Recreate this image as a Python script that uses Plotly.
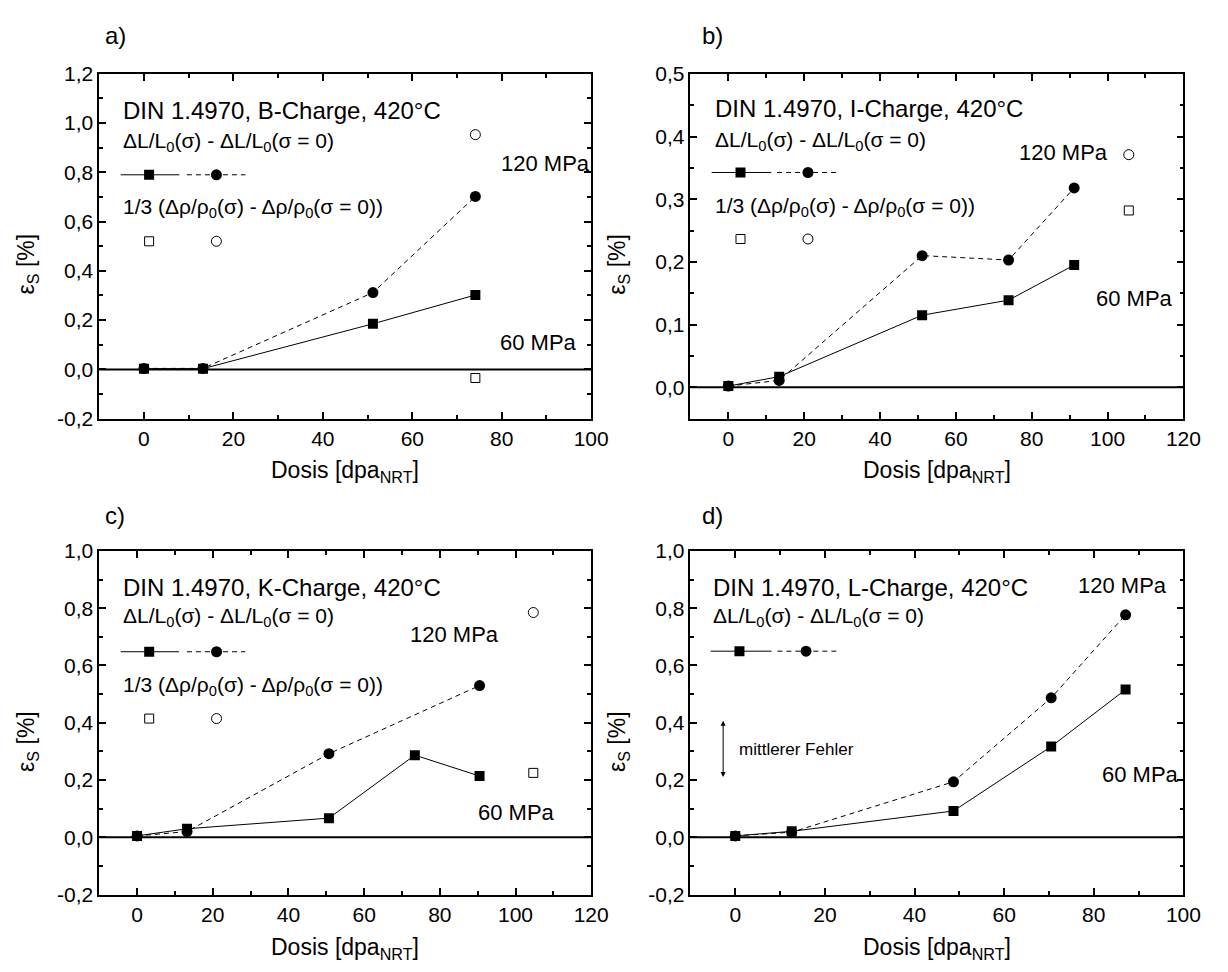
import plotly.graph_objects as go
from plotly.subplots import make_subplots

# ---------------- data ----------------
# a) B-Charge
a_dose = [0, 13.2, 51.2, 74.1]
a_eps_60 = [0.003, 0.003, 0.185, 0.302]
a_eps_120 = [0.004, 0.004, 0.312, 0.702]
a_rho_dose = [74.1]
a_rho_60 = [-0.035]
a_rho_120 = [0.953]

# b) I-Charge
b_dose = [0, 13.4, 51.1, 73.9, 91.2]
b_eps_60 = [0.002, 0.017, 0.115, 0.139, 0.195]
b_eps_120 = [0.002, 0.011, 0.210, 0.203, 0.318]
b_rho_dose = [105.6]
b_rho_60 = [0.282]
b_rho_120 = [0.371]

# c) K-Charge
c_dose_60 = [0, 13.2, 50.7, 73.4, 90.5]
c_eps_60 = [0.005, 0.030, 0.067, 0.287, 0.214]
c_dose_120 = [0, 13.2, 50.7, 90.5]
c_eps_120 = [0.005, 0.020, 0.292, 0.530]
c_rho_dose = [104.7]
c_rho_60 = [0.225]
c_rho_120 = [0.785]

# d) L-Charge
d_dose = [0, 12.6, 48.7, 70.5, 87.1]
d_eps_60 = [0.005, 0.021, 0.092, 0.317, 0.516]
d_eps_120 = [0.005, 0.018, 0.194, 0.487, 0.777]

# tick labels
x_ticks_100 = [0, 20, 40, 60, 80, 100]
x_ticks_120 = [0, 20, 40, 60, 80, 100, 120]
y_ticks_a = [-0.2, 0.0, 0.2, 0.4, 0.6, 0.8, 1.0, 1.2]
y_labels_a = ["-0,2", "0,0", "0,2", "0,4", "0,6", "0,8", "1,0", "1,2"]
y_ticks_b = [0.0, 0.1, 0.2, 0.3, 0.4, 0.5]
y_labels_b = ["0,0", "0,1", "0,2", "0,3", "0,4", "0,5"]
y_ticks_cd = [-0.2, 0.0, 0.2, 0.4, 0.6, 0.8, 1.0]
y_labels_cd = ["-0,2", "0,0", "0,2", "0,4", "0,6", "0,8", "1,0"]

# in-plot key glyphs: [solid line x], [dashed line x], key row y values
a_key_solid = [-5.2, 1.15, 7.9]
a_key_dash = [9.6, 16.2, 22.7]
a_key_y = [0.79, 0.52]
b_key_solid = [-4.4, 3.2, 11.3]
b_key_dash = [12.85, 21.0, 28.6]
b_key_y = [0.3426, 0.2365]
c_key_solid = [-4.3, 3.2, 11.1]
c_key_dash = [13.2, 21.0, 28.6]
c_key_y = [0.648, 0.4147]
d_key_solid = [-5.5, 0.94, 8.1]
d_key_dash = [9.4, 15.8, 22.6]
d_key_y = [0.65]

FONT = "Liberation Sans, Arial, sans-serif"
W, H = 1228, 972

fig = make_subplots(rows=2, cols=2)

def add_series(row, col, x60, y60, x120, y120):
    fig.add_trace(go.Scatter(x=x60, y=y60, mode="lines+markers",
                             line=dict(color="black", width=1),
                             marker=dict(symbol="square", size=10, color="black"),
                             showlegend=False), row=row, col=col)
    fig.add_trace(go.Scatter(x=x120, y=y120, mode="lines+markers",
                             line=dict(color="black", width=1, dash="5px,4px"),
                             marker=dict(symbol="circle", size=11, color="black"),
                             showlegend=False), row=row, col=col)

def add_rho(row, col, xr, y60, y120):
    fig.add_trace(go.Scatter(x=xr, y=y60, mode="markers",
                             marker=dict(symbol="square-open", size=9, color="black",
                                         line=dict(width=1)),
                             showlegend=False), row=row, col=col)
    fig.add_trace(go.Scatter(x=xr, y=y120, mode="markers",
                             marker=dict(symbol="circle-open", size=10, color="black",
                                         line=dict(width=1)),
                             showlegend=False), row=row, col=col)

def add_key(row, col, solid, dash, ys):
    y0 = ys[0]
    fig.add_trace(go.Scatter(x=solid, y=[y0] * 3, mode="lines",
                             line=dict(color="black", width=1), showlegend=False),
                  row=row, col=col)
    fig.add_trace(go.Scatter(x=dash, y=[y0] * 3, mode="lines",
                             line=dict(color="black", width=1, dash="5px,4px"),
                             showlegend=False), row=row, col=col)
    fig.add_trace(go.Scatter(x=[solid[1]], y=[y0], mode="markers",
                             marker=dict(symbol="square", size=10, color="black"),
                             showlegend=False), row=row, col=col)
    fig.add_trace(go.Scatter(x=[dash[1]], y=[y0], mode="markers",
                             marker=dict(symbol="circle", size=11, color="black"),
                             showlegend=False), row=row, col=col)
    if len(ys) > 1:
        add_rho(row, col, [solid[1]], [ys[1]], [])
        add_rho(row, col, [dash[1]], [], [ys[1]])

add_series(1, 1, a_dose, a_eps_60, a_dose, a_eps_120)
add_rho(1, 1, a_rho_dose, a_rho_60, a_rho_120)
add_key(1, 1, a_key_solid, a_key_dash, a_key_y)

add_series(1, 2, b_dose, b_eps_60, b_dose, b_eps_120)
add_rho(1, 2, b_rho_dose, b_rho_60, b_rho_120)
add_key(1, 2, b_key_solid, b_key_dash, b_key_y)

add_series(2, 1, c_dose_60, c_eps_60, c_dose_120, c_eps_120)
add_rho(2, 1, c_rho_dose, c_rho_60, c_rho_120)
add_key(2, 1, c_key_solid, c_key_dash, c_key_y)

add_series(2, 2, d_dose, d_eps_60, d_dose, d_eps_120)
add_key(2, 2, d_key_solid, d_key_dash, d_key_y)

# panel frames (pixel positions converted to paper fractions)
left_x = [100.7 / W, 600.0 / W]
right_x = [700.7 / W, 1201.0 / W]
top_y = [1 - 416.5 / H, 1 - 63.3 / H]
bot_y = [1 - 904.0 / H, 1 - 552.0 / H]

axis_common = dict(showline=True, linecolor="black", linewidth=1.5, mirror="ticks",
                   ticks="inside", ticklen=7, tickwidth=1.5, tickcolor="black",
                   showgrid=False, zeroline=False,
                   tickfont=dict(family=FONT, size=21, color="black"))

panels = [
    # (xaxis, yaxis, xdomain, ydomain, xrange, yrange, xticks, yticks, ylabels, yminor)
    ("xaxis", "yaxis", left_x, top_y, [-10, 100], [-0.2, 1.2], x_ticks_100, y_ticks_a, y_labels_a, 0.1),
    ("xaxis2", "yaxis2", right_x, top_y, [-10, 120], [-0.05, 0.5], x_ticks_120, y_ticks_b, y_labels_b, 0.05),
    ("xaxis3", "yaxis3", left_x, bot_y, [-10, 120], [-0.2, 1.0], x_ticks_120, y_ticks_cd, y_labels_cd, 0.1),
    ("xaxis4", "yaxis4", right_x, bot_y, [-10, 100], [-0.2, 1.0], x_ticks_100, y_ticks_cd, y_labels_cd, 0.1),
]
for xa, ya, xd, yd, xr, yr, xt, yt, yl, ym in panels:
    fig.layout[xa].update(domain=xd, range=xr, tickmode="array", tickvals=xt,
                          ticktext=[str(v) for v in xt],
                          minor=dict(ticks="inside", ticklen=4, tickwidth=1.5,
                                     tickcolor="black", dtick=10, tick0=0),
                          **axis_common)
    fig.layout[ya].update(domain=yd, range=yr, tickmode="array", tickvals=yt,
                          ticktext=yl,
                          minor=dict(ticks="inside", ticklen=4, tickwidth=1.5,
                                     tickcolor="black", dtick=ym, tick0=0),
                          **axis_common)

# zero reference lines
for xr_name, yr_name in [("x", "y"), ("x2", "y2"), ("x3", "y3"), ("x4", "y4")]:
    fig.add_shape(type="line", xref=f"{xr_name} domain", yref=yr_name,
                  x0=0, x1=1, y0=0, y1=0, line=dict(color="black", width=2))

ann = []

def txt(text, x, y, xref, yref, size, xanchor="left", yanchor="middle", angle=0):
    ann.append(dict(text=text, x=x, y=y, xref=xref, yref=yref, showarrow=False,
                    xanchor=xanchor, yanchor=yanchor, textangle=angle,
                    font=dict(family=FONT, size=size, color="black")))

DL = "\u0394L/L<sub>0</sub>(\u03c3) - \u0394L/L<sub>0</sub>(\u03c3 = 0)"
DR = "1/3 (\u0394\u03c1/\u03c1<sub>0</sub>(\u03c3) - \u0394\u03c1/\u03c1<sub>0</sub>(\u03c3 = 0))"
S_DIN, S_F, S_MPA = 24, 21, 22

# a)
txt("DIN 1.4970, B-Charge, 420\u00b0C", -5.2, 1.052, "x", "y", S_DIN)
txt(DL, -5.2, 0.925, "x", "y", S_F)
txt(DR, -5.2, 0.656, "x", "y", S_F)
txt("120 MPa", 79.3, 0.835, "x", "y", S_MPA)
txt("60 MPa", 79.1, 0.11, "x", "y", S_MPA)
# b)
txt("DIN 1.4970, I-Charge, 420\u00b0C", -4.1, 0.444, "x2", "y2", S_DIN)
txt(DL, -4.1, 0.393, "x2", "y2", S_F)
txt(DR, -4.1, 0.288, "x2", "y2", S_F)
txt("120 MPa", 76.1, 0.374, "x2", "y2", S_MPA)
txt("60 MPa", 96.4, 0.141, "x2", "y2", S_MPA)
# c)
txt("DIN 1.4970, K-Charge, 420\u00b0C", -4.3, 0.873, "x3", "y3", S_DIN)
txt(DL, -4.3, 0.77, "x3", "y3", S_F)
txt(DR, -4.3, 0.527, "x3", "y3", S_F)
txt("120 MPa", 71.6, 0.709, "x3", "y3", S_MPA)
txt("60 MPa", 89.5, 0.086, "x3", "y3", S_MPA)
# d)
txt("DIN 1.4970, L-Charge, 420\u00b0C", -5.5, 0.873, "x4", "y4", S_DIN)
txt(DL, -5.5, 0.77, "x4", "y4", S_F)
txt("120 MPa", 76.0, 0.879, "x4", "y4", S_MPA)
txt("60 MPa", 81.3, 0.22, "x4", "y4", S_MPA)
txt("mittlerer Fehler", 0.34, 0.307, "x4", "y4", 17)
ann.append(dict(x=-2.7, y=0.407, ax=-2.7, ay=0.205, xref="x4", yref="y4",
                axref="x4", ayref="y4", text="", showarrow=True,
                arrowhead=2, arrowside="end+start", arrowsize=1, arrowwidth=1,
                arrowcolor="black"))

# panel letters
for lbl, x_px, y_px in [("a)", 104.7, 24), ("b)", 710.3, 24), ("c)", 104.7, 516), ("d)", 710.3, 516)]:
    txt(lbl, x_px / W, 1 - y_px / H, "paper", "paper", 24)

# axis titles
XT = "Dosis [dpa<sub>NRT</sub>]"
YT = "\u03b5<sub>S</sub> [%]"
for cx, cy in [(350.3, 470.5), (950.8, 470.5), (350.3, 959), (950.8, 959)]:
    txt(XT, cx / W, 1 - cy / H, "paper", "paper", 23, xanchor="center")
for cx, cy in [(28, 258), (628, 258), (28, 747), (628, 747)]:
    txt(YT, cx / W, 1 - cy / H, "paper", "paper", 23, xanchor="center", angle=-90)

fig.update_layout(width=W, height=H, margin=dict(l=0, r=0, t=0, b=0),
                  paper_bgcolor="white", plot_bgcolor="white",
                  font=dict(family=FONT, color="black"),
                  showlegend=False, annotations=ann)

fig.write_html("out.html")
